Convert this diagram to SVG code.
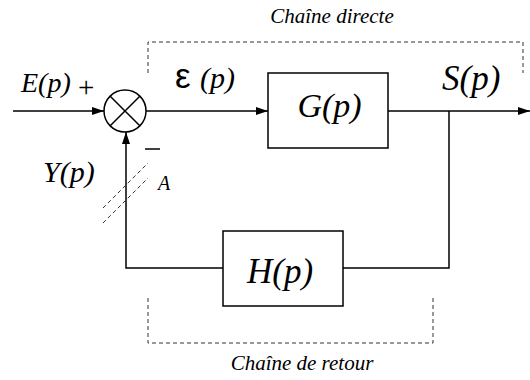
<svg xmlns="http://www.w3.org/2000/svg" width="530" height="380" viewBox="0 0 530 380" font-family="Liberation Serif, DejaVu Serif, serif">
<defs>
<marker id="ar" markerWidth="12" markerHeight="8" refX="12" refY="4" orient="auto" markerUnits="userSpaceOnUse">
<path d="M0,0 L12,4 L0,8 Z" fill="#000"/>
</marker>
</defs>
<rect width="530" height="380" fill="#fff"/>
<g id="zones">
<g stroke="#333" stroke-width="1" fill="none" stroke-dasharray="4 3">
<polyline points="148,73 148,42 523,42 523,73"/>
<polyline points="148,298 148,343 433,343 433,298"/>
</g>
<text x="332" y="23" text-anchor="middle" font-family="Liberation Serif, DejaVu Serif, serif" font-style="italic" font-size="21">Cha&#238;ne directe</text>
<text x="302" y="370" text-anchor="middle" font-family="Liberation Serif, DejaVu Serif, serif" font-style="italic" font-size="21">Cha&#238;ne de retour</text>
</g>
<g id="connectors" stroke="#000" stroke-width="1.5" fill="none">
<line x1="13" y1="111" x2="104" y2="111" marker-end="url(#ar)"/>
<line x1="146" y1="111" x2="268" y2="111" marker-end="url(#ar)"/>
<line x1="388" y1="111" x2="530" y2="111" marker-end="url(#ar)"/>
<polyline points="449,111 449,268 343,268"/>
<polyline points="223,268 126,268 126,132" marker-end="url(#ar)"/>
<g stroke="#333" stroke-width="1" stroke-dasharray="4 3">
<line x1="103" y1="208" x2="148" y2="163"/>
<line x1="103" y1="223" x2="148" y2="178"/>
</g>
</g>
<g id="sum" stroke="#000" stroke-width="1.5" fill="#fff">
<circle cx="125" cy="111" r="21"/>
<line x1="110.2" y1="96.2" x2="139.8" y2="125.8"/>
<line x1="139.8" y1="96.2" x2="110.2" y2="125.8"/>
</g>
<g id="G">
<rect x="268" y="73" width="120" height="75" stroke="#000" stroke-width="1.5" fill="#fff"/>
<text x="329.5" y="117" font-size="34" font-family="Liberation Serif, DejaVu Serif, serif" font-style="italic" text-anchor="middle">G(p)</text>
</g>
<g id="H">
<rect x="223" y="231" width="120" height="75" stroke="#000" stroke-width="1.5" fill="#fff"/>
<text x="280" y="283" font-size="35" font-family="Liberation Serif, DejaVu Serif, serif" font-style="italic" text-anchor="middle">H(p)</text>
</g>
<g id="labels">
<text x="21" y="92" font-size="28" font-family="Liberation Serif, DejaVu Serif, serif" font-style="italic">E(p)</text>
<text x="78" y="97" font-size="29" font-family="Liberation Serif, DejaVu Serif, serif">+</text>
<text x="175" y="88" font-size="35" font-family="Liberation Sans, DejaVu Sans, sans-serif">&#949;</text>
<text x="200" y="88" font-size="30" font-family="Liberation Serif, DejaVu Serif, serif" font-style="italic">(p)</text>
<text x="442" y="90" font-size="35" font-family="Liberation Serif, DejaVu Serif, serif" font-style="italic">S(p)</text>
<text x="43" y="182" font-size="30" font-family="Liberation Serif, DejaVu Serif, serif" font-style="italic">Y(p)</text>
<line x1="145" y1="149" x2="160" y2="149" stroke="#000" stroke-width="1.5"/>
<text x="158" y="190" font-size="20" font-family="Liberation Serif, DejaVu Serif, serif" font-style="italic">A</text>
</g>
</svg>
